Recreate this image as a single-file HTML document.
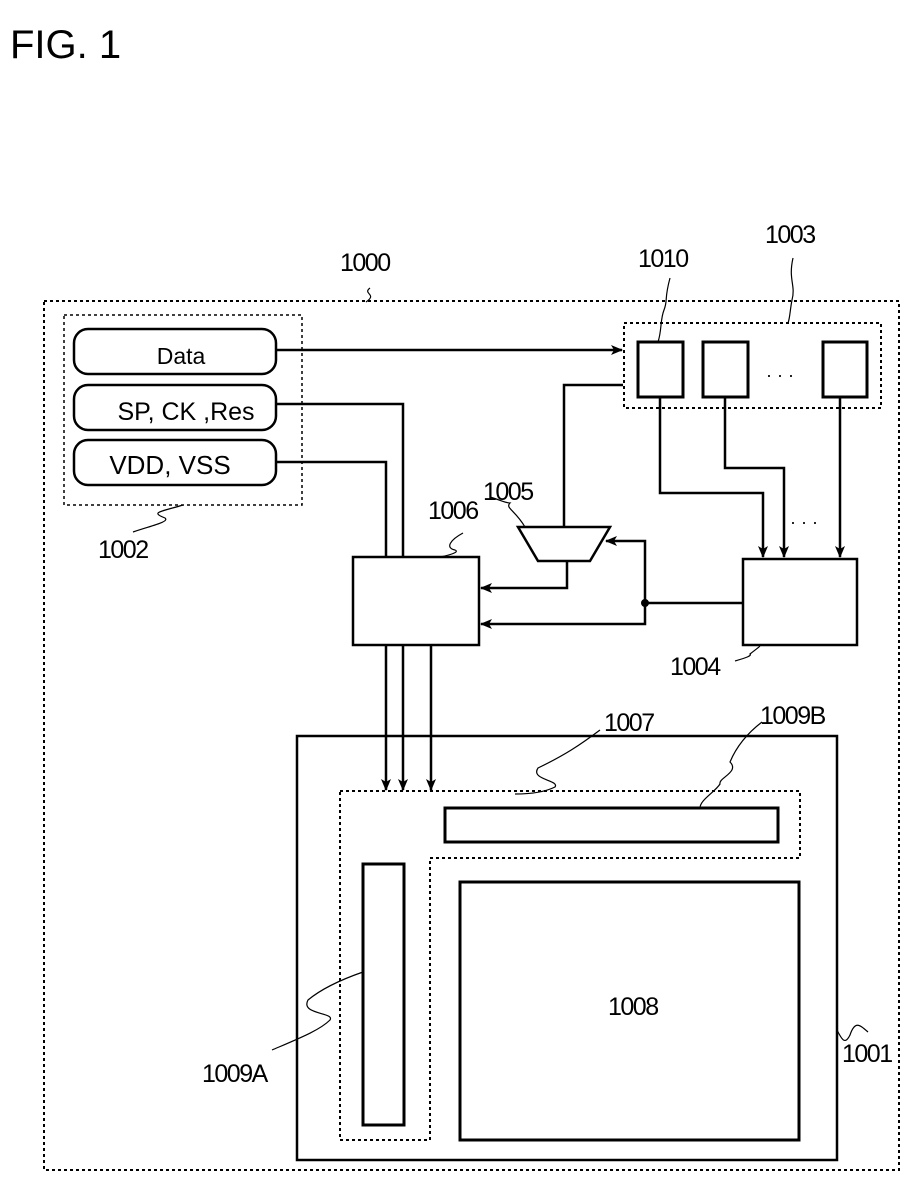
<!DOCTYPE html>
<html><head><meta charset="utf-8"><style>
html,body{margin:0;padding:0;background:#fff;}
svg{display:block;}
text{font-family:"Liberation Sans",sans-serif;fill:#000;}
</style></head><body>
<svg width="921" height="1181" viewBox="0 0 921 1181" xmlns="http://www.w3.org/2000/svg">
<defs>
<marker id="a" markerWidth="12" markerHeight="10" refX="11" refY="5" orient="auto" markerUnits="userSpaceOnUse">
<path d="M0,0 L12,5 L0,10 L3,5 Z" fill="#000"/>
</marker>
</defs>
<text x="10" y="58" font-size="40">FIG. 1</text>

<g fill="none" stroke="#000">
<rect x="44" y="301" width="855" height="869" stroke-width="2" stroke-dasharray="3,3"/>
<rect x="64" y="315" width="238" height="190" stroke-width="1.5" stroke-dasharray="3,3"/>
<rect x="74" y="329" width="202" height="45" rx="14" stroke-width="2.5"/>
<rect x="74" y="385" width="202" height="45" rx="14" stroke-width="2.5"/>
<rect x="74" y="440" width="202" height="45" rx="14" stroke-width="2.5"/>
<rect x="624" y="323" width="257" height="85" stroke-width="2" stroke-dasharray="3,3"/>
<rect x="638" y="342" width="45" height="55" stroke-width="3"/>
<rect x="703" y="342" width="45" height="55" stroke-width="3"/>
<rect x="823" y="342" width="44" height="55" stroke-width="3"/>
<rect x="353" y="557" width="126" height="88" stroke-width="2.5"/>
<rect x="743" y="559" width="114" height="86" stroke-width="2.5"/>
<path d="M518,527 L610,527 L590,561 L538,561 Z" stroke-width="2.5"/>
<rect x="297" y="736" width="540" height="424" stroke-width="2.5"/>
<path d="M340,791 L800,791 L800,858 L430,858 L430,1140 L340,1140 Z" stroke-width="2" stroke-dasharray="3,3"/>
<rect x="445" y="808" width="333" height="34" stroke-width="3"/>
<rect x="363" y="864" width="41" height="261" stroke-width="3"/>
<rect x="460" y="882" width="339" height="258" stroke-width="3"/>

<g stroke-width="2.5">
<path d="M276,350 L622,350" marker-end="url(#a)"/>
<path d="M276,404 L403,404 L403,557"/>
<path d="M276,462 L386,462 L386,557"/>
<path d="M623,385 L564,385 L564,527"/>
<path d="M567,561 L567,588 L481,588" marker-end="url(#a)"/>
<path d="M743,603 L645,603"/>
<path d="M645,603 L645,541 L606,541" marker-end="url(#a)"/>
<path d="M645,603 L645,624 L481,624" marker-end="url(#a)"/>
<path d="M660,397 L660,493 L763,493 L763,557" marker-end="url(#a)"/>
<path d="M725,397 L725,468 L784,468 L784,557" marker-end="url(#a)"/>
<path d="M840,397 L840,557" marker-end="url(#a)"/>
<path d="M386,645 L386,790" marker-end="url(#a)"/>
<path d="M403,645 L403,790" marker-end="url(#a)"/>
<path d="M431,645 L431,790" marker-end="url(#a)"/>
</g>
<circle cx="645" cy="603" r="3.5" fill="#000"/>

<g stroke-width="1.2">
<path d="M370,288 C362,294 378,294 366,302"/>
<path d="M670,278 C664,300 668,300 664,310 C660,320 662,330 658,342"/>
<path d="M793,258 C788,280 796,285 792,300 C790,310 790,318 788,323"/>
<path d="M183,505 C160,512 150,512 165,518 C170,522 150,526 133,532"/>
<path d="M463,533 C450,540 445,548 455,550 C460,552 450,555 440,557"/>
<path d="M490,497 C500,500 506,503 510,503 C505,508 515,510 525,527"/>
<path d="M735,661 C745,658 752,656 750,654 C755,650 758,648 760,646"/>
<path d="M600,730 C580,745 565,755 538,768 C530,780 560,780 555,787 C545,792 530,794 515,794"/>
<path d="M762,722 C745,735 735,750 730,762 C740,772 718,778 720,784 C715,792 700,800 700,808"/>
<path d="M363,972 C340,980 320,990 308,1000 C300,1015 335,1012 330,1020 C320,1030 300,1038 272,1050"/>
<path d="M837,1030 C842,1040 845,1045 850,1035 C855,1020 860,1025 868,1032"/>
</g>
</g>

<text x="181" y="364" font-size="23" text-anchor="middle">Data</text>
<text x="186" y="420" font-size="25" text-anchor="middle">SP, CK ,Res</text>
<text x="170" y="474" font-size="26" text-anchor="middle">VDD, VSS</text>
<text x="766" y="381" font-size="18">· · ·</text>
<text x="790" y="528" font-size="18">· · ·</text>

<g font-size="25" letter-spacing="-1.5">
<text x="340" y="271">1000</text>
<text x="765" y="243">1003</text>
<text x="638" y="267">1010</text>
<text x="98" y="558">1002</text>
<text x="428" y="519">1006</text>
<text x="483" y="500">1005</text>
<text x="670" y="675">1004</text>
<text x="604" y="731">1007</text>
<text x="760" y="724">1009B</text>
<text x="608" y="1015">1008</text>
<text x="202" y="1082">1009A</text>
<text x="842" y="1062">1001</text>
</g>
</svg>
</body></html>
